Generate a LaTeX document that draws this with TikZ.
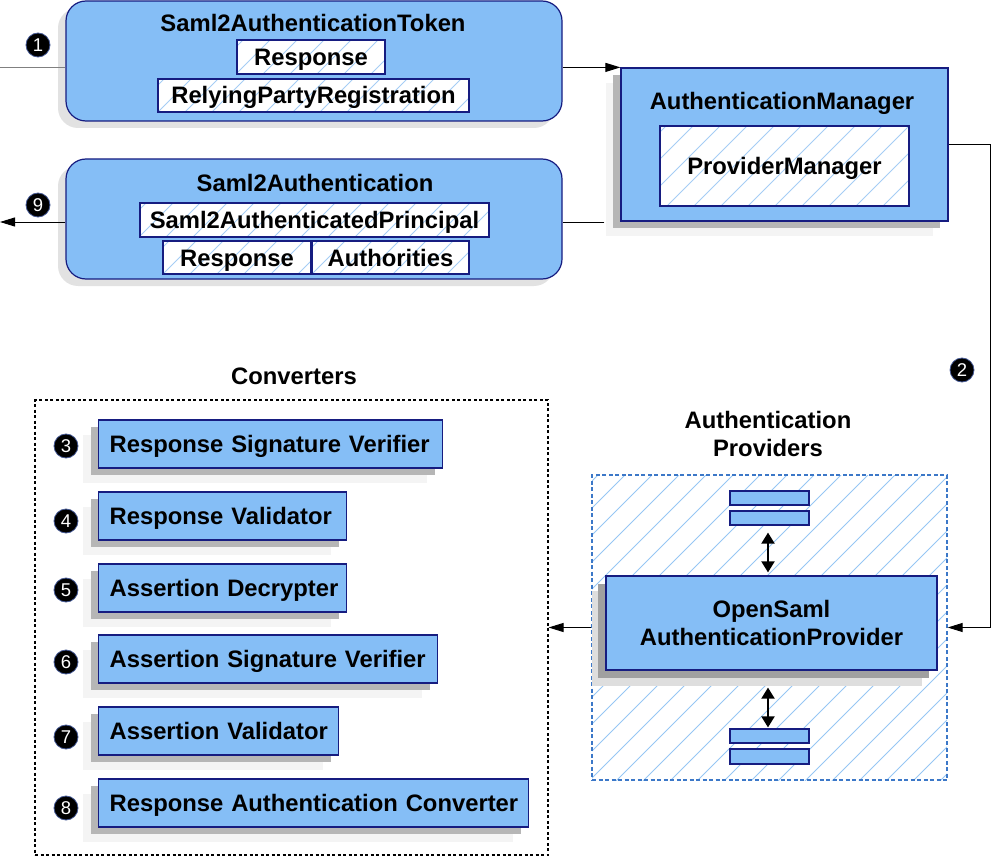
\documentclass[tikz,border=0pt]{standalone}
\usepackage{fontspec}
\setmainfont{Liberation Sans}
\usetikzlibrary{arrows.meta}
\definecolor{boxfill}{RGB}{133,190,246}
\definecolor{boxline}{RGB}{22,28,128}
\definecolor{hatchlight}{RGB}{165,205,245}
\definecolor{hatchprov}{RGB}{150,198,244}
\definecolor{provline}{RGB}{60,120,200}
\definecolor{shdark}{RGB}{182,182,182}
\definecolor{shlight}{RGB}{244,244,244}
\definecolor{shround}{RGB}{226,226,226}
\definecolor{shdarkp}{RGB}{160,160,160}
\definecolor{shlightp}{RGB}{222,222,222}
\definecolor{badgeline}{RGB}{70,90,150}
\begin{document}
\begin{tikzpicture}[x=1pt,y=-1pt,
  font=\fontsize{23.8}{28}\selectfont\bfseries,
  tx/.style={text height=17pt,text depth=0pt},
  bluebox/.style={draw=boxline,fill=boxfill,line width=1.2pt,inner sep=0pt},
  roundbox/.style={bluebox,rounded corners=20pt},
  hatchlines/.style 2 args={path picture={
      \foreach \k in {0,...,30}
        \draw[#1,solid,line width=#2] ([xshift=\k*27pt+6pt]path picture bounding box.north west) -- ++(-700,700);}},
  hatchbox/.style={draw=boxline,line width=1.2pt,fill=white,hatchlines={hatchlight}{0.8pt},inner sep=0pt,tx},
  convbox/.style={bluebox,anchor=west,inner xsep=11pt,minimum height=48pt,align=left,tx},
  badge/.style={circle,fill=black,draw=badgeline,line width=0.8pt,minimum size=24pt,inner sep=0pt,
    text=white,font=\fontsize{18.5}{18.5}\selectfont},
  arr/.style={-{Triangle[length=15pt,width=9pt]},line width=1pt},
  dbl/.style={{Triangle[length=11pt,width=13pt]}-{Triangle[length=11pt,width=13pt]},line width=2pt},
  lbl/.style={inner sep=0pt,align=center}
]
\useasboundingbox (0,0) rectangle (991,856);

% ---------- Saml2AuthenticationToken ----------
\fill[shround,rounded corners=20pt] (58,8) rectangle (554,128);
\node[roundbox,minimum width=496pt,minimum height=120pt] (tok) at (314,61) {};
\node[lbl,tx] (tokT) at (313,23) {Saml2AuthenticationToken};
\node[hatchbox,minimum width=148pt,minimum height=34pt] (tokR) at (311,57) {Response};
\node[hatchbox,minimum width=311pt,minimum height=33pt] (tokRP) at (313.5,95.5) {RelyingPartyRegistration};

% ---------- Saml2Authentication ----------
\fill[shround,rounded corners=20pt] (58,166) rectangle (554,286);
\node[roundbox,minimum width=496pt,minimum height=120pt] (auth) at (314,219) {};
\node[lbl,tx] (authT) at (315,183) {Saml2Authentication};
\node[hatchbox,minimum width=349pt,minimum height=34pt] (authP) at (314.5,220) {Saml2AuthenticatedPrincipal};
\node[hatchbox,minimum width=148pt,minimum height=33pt] (authR) at (237,257.5) {Response};
\node[hatchbox,minimum width=157pt,minimum height=33pt] (authA) at (390.5,257.5) {Authorities};

% ---------- AuthenticationManager ----------
\fill[shlight] (606,83) rectangle (933,236);
\fill[shdark] (613,75) rectangle (940,228);
\node[bluebox,minimum width=327pt,minimum height=153pt] (am) at (784.5,144.5) {};
\node[lbl,tx] (amT) at (782,101) {AuthenticationManager};
\node[hatchbox,minimum width=249pt,minimum height=80pt] (pm) at (784.5,166) {ProviderManager};

% ---------- Converters ----------
\node[lbl,tx] (convT) at (294,376) {Converters};
\node[draw=black,line width=1.1pt,dash pattern=on 3pt off 2.5pt,minimum width=513pt,minimum height=455pt,inner sep=0pt] (conv) at (291.5,627.5) {};

\foreach \n/\y/\w/\t in {c3/444/344/Response Signature Verifier,
                      c4/516/248/Response Validator,
                      c5/588/248/Assertion Decrypter,
                      c6/659/339/Assertion Signature Verifier,
                      c7/731/240/Assertion Validator,
                      c8/803/430/Response Authentication Converter}{
  \fill[shlight] (98-15,\y-24+15) rectangle (98-15+\w,\y+24+15);
  \fill[shdark] (98-7,\y-24+7) rectangle (98-7+\w,\y+24+7);
  \node[convbox,text width=\w pt-22pt] (\n) at (98,\y) {\mbox{\t}};
}

% ---------- Authentication Providers ----------
\node[lbl] (provT) at (768,434) {Authentication\\Providers};
\node[draw=provline,line width=1.3pt,dash pattern=on 4pt off 2.5pt,hatchlines={hatchprov}{1pt},
      minimum width=355pt,minimum height=305pt,inner sep=0pt] (prov) at (769.5,627.5) {};
\fill[shlightp] (592,591) rectangle (922,686);
\fill[shdarkp] (598,584) rectangle (929,678);
\node[bluebox,minimum width=331pt,minimum height=94pt,align=center] (os) at (771.5,623) {OpenSaml\\AuthenticationProvider};
\node[bluebox,minimum width=79pt,minimum height=14pt] (p1) at (769.5,498) {};
\node[bluebox,minimum width=79pt,minimum height=14pt] (p2) at (769.5,518) {};
\node[bluebox,minimum width=79pt,minimum height=14pt] (p3) at (769.5,736) {};
\node[bluebox,minimum width=79pt,minimum height=15pt] (p4) at (769.5,756.5) {};
\draw[dbl,shorten <=7pt,shorten >=3pt] ([xshift=-1.5pt]p2.south) -- ([xshift=-1.5pt]p2.south |- os.north);
\draw[dbl,shorten <=17pt,shorten >=1pt] ([xshift=-1.5pt]p3.north |- os.south) -- ([xshift=-1.5pt]p3.north);

% ---------- badges ----------
\node[badge] (b1) at (38,45) {1};
\node[badge] (b9) at (38,205) {9};
\node[badge] (b2) at (962,370) {2};
\node[badge] (b3) at (66,446) {3};
\node[badge] (b4) at (66,521) {4};
\node[badge] (b5) at (66,590) {5};
\node[badge] (b6) at (66,662) {6};
\node[badge] (b7) at (66,737) {7};
\node[badge] (b8) at (66,808) {8};

% ---------- connectors ----------
\coordinate (in1) at (0,68);
\coordinate (out9) at (0,222);
\coordinate (rt) at (990,0);
\coordinate (amL) at ([shift={(-16,1)}]am.south west);
\draw[gray,line width=1pt] (in1) -- (in1 -| tok.west);
\draw[arr] (am.north west -| tok.east) -- (am.north west);
\draw[arr] (am.east) -- (am.east -| rt) |- (prov.east);
\draw[line width=1pt] (amL) -- (amL -| auth.east);
\draw[arr] (out9 -| auth.west) -- (out9);
\draw[arr] (prov.west) -- (conv.east);
\end{tikzpicture}
\end{document}
